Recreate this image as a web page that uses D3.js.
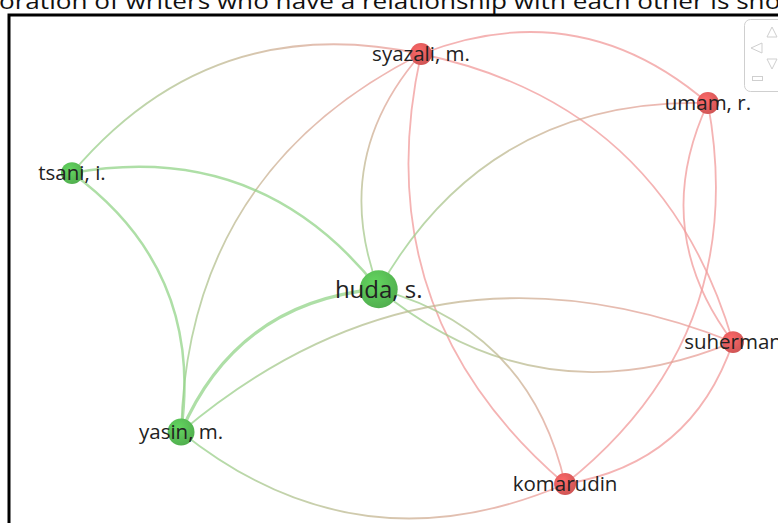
<!DOCTYPE html>
<html>
<head>
<meta charset="utf-8">
<script src="https://cdn.jsdelivr.net/npm/d3@7"></script>
<style>
  html, body { margin: 0; padding: 0; background: #fff; overflow: hidden; }
  svg { display: block; }
  .label { font-family: "Open Sans", sans-serif; fill: #222; }
</style>
</head>
<body>
<div class="net"></div>
<script>
;(function () {
  var W = 778
  var H = 523

  // authors (VOSviewer map coordinates, 0..100)
  var authors = ['syazali, m.', 'umam, r.', 'tsani, i.', 'huda, s.', 'suherman', 'yasin, m.', 'komarudin']
  var mapX = [52.8, 96.2, 0, 46.4, 100, 16.5, 74.6]
  var mapY = [0, 11.4, 27.7, 54.7, 67.0, 87.9, 100]
  var weights = [2, 2, 2, 6, 2, 3, 2]
  var clusters = [1, 1, 2, 2, 1, 2, 1]

  // co-authorship links: source, target, strength
  var linkSource = ['tsani, i.', 'syazali, m.', 'syazali, m.', 'suherman', 'komarudin', 'huda, s.', 'yasin, m.', 'huda, s.', 'umam, r.', 'tsani, i.', 'tsani, i.', 'yasin, m.', 'suherman', 'huda, s.', 'yasin, m.', 'komarudin', 'suherman']
  var linkTarget = ['syazali, m.', 'umam, r.', 'suherman', 'umam, r.', 'syazali, m.', 'syazali, m.', 'syazali, m.', 'umam, r.', 'komarudin', 'huda, s.', 'yasin, m.', 'huda, s.', 'huda, s.', 'komarudin', 'suherman', 'yasin, m.', 'komarudin']
  var linkStrength = [1, 1, 1, 1, 1, 1, 1, 1, 1, 2, 2, 3, 1, 1, 1, 1, 1]

  var title = 'Collaboration of writers who have a relationship with each other is shown'

  var nodeColor = { 1: '#e05c5c', 2: '#58bd55' }
  var linkColor = { 1: '#f19a9a', 2: '#93d489' }

  var svg = d3.select('.net').append('svg')
    .attr('width', W)
    .attr('height', H)

  var x = d3.scaleLinear().domain([0, 100]).range([72, 733])
  var y = d3.scaleLinear().domain([0, 100]).range([54, 484])
  var r = d3.scaleSqrt().domain([0, d3.max(weights)]).range([0, 19])
  var lw = d3.scaleLinear().domain([1, 3]).range([1.8, 3.2])

  var nodes = authors.map(function (name, i) {
    return { name: name, x: x(mapX[i]), y: y(mapY[i]), r: r(weights[i]), c: clusters[i] }
  })
  var byName = {}
  nodes.forEach(function (n) { byName[n.name] = n })

  var links = linkSource.map(function (s, i) {
    return { s: byName[s], t: byName[linkTarget[i]], w: linkStrength[i] }
  })

  var defs = svg.append('defs')

  // title (cut by the page edges, as in the source figure)
  var titleText = svg.append('text')
    .attr('font-family', '"Open Sans", sans-serif')
    .attr('font-size', 21)
    .attr('fill', '#111')
    .text(title)
  var node = titleText.node()
  var start = title.indexOf('oration')
  var end = title.indexOf('shown') + 3
  var offset = node.getSubStringLength(0, start)
  var subW = node.getSubStringLength(start, end - start)
  var sx = 782 / subW
  titleText.attr('transform', 'translate(' + (-1 - offset * sx) + ',9) scale(' + sx + ',1)')

  // frame
  svg.append('rect')
    .attr('x', 9)
    .attr('y', 15)
    .attr('width', W + 20)
    .attr('height', H + 20)
    .attr('fill', 'none')
    .attr('stroke', '#000')
    .attr('stroke-width', 3)

  // links
  links.forEach(function (l, i) {
    var g = defs.append('linearGradient')
      .attr('id', 'lg' + i)
      .attr('gradientUnits', 'userSpaceOnUse')
      .attr('x1', l.s.x).attr('y1', l.s.y)
      .attr('x2', l.t.x).attr('y2', l.t.y)
    g.append('stop').attr('offset', '0%').attr('stop-color', linkColor[l.s.c])
    g.append('stop').attr('offset', '100%').attr('stop-color', linkColor[l.t.c])
  })

  svg.append('g').selectAll('path')
    .data(links)
    .enter().append('path')
    .attr('d', function (l) {
      var dx = l.t.x - l.s.x
      var dy = l.t.y - l.s.y
      var k = 0.3
      var cx = (l.s.x + l.t.x) / 2 + dy * k
      var cy = (l.s.y + l.t.y) / 2 - dx * k
      return 'M' + l.s.x + ',' + l.s.y + 'Q' + cx + ',' + cy + ' ' + l.t.x + ',' + l.t.y
    })
    .attr('fill', 'none')
    .attr('stroke', function (l, i) { return 'url(#lg' + i + ')' })
    .attr('stroke-opacity', 0.75)
    .attr('stroke-width', function (l) { return lw(l.w) })

  // node gradients
  ;[1, 2].forEach(function (c) {
    var rg = defs.append('radialGradient')
      .attr('id', 'ng' + c)
      .attr('cx', '40%').attr('cy', '35%').attr('r', '70%')
    rg.append('stop').attr('offset', '0%').attr('stop-color', d3.color(nodeColor[c]).brighter(0.35))
    rg.append('stop').attr('offset', '100%').attr('stop-color', d3.color(nodeColor[c]).darker(0.25))
  })

  svg.append('g').selectAll('circle')
    .data(nodes)
    .enter().append('circle')
    .attr('cx', function (d) { return d.x })
    .attr('cy', function (d) { return d.y })
    .attr('r', function (d) { return d.r })
    .attr('fill', function (d) { return 'url(#ng' + d.c + ')' })

  svg.append('g').selectAll('text')
    .data(nodes)
    .enter().append('text')
    .attr('class', 'label')
    .attr('x', function (d) { return d.x })
    .attr('y', function (d) { return d.y })
    .attr('dy', '0.35em')
    .attr('text-anchor', 'middle')
    .attr('font-size', function (d) { return d.r > 15 ? 24 : 20.5 })
    .text(function (d) { return d.name })

  // navigation widget
  var nav = svg.append('g').attr('fill', 'none').attr('stroke', '#cfcfcf').attr('stroke-width', 1)
  nav.append('rect').attr('x', 744.5).attr('y', 19.5).attr('width', 50).attr('height', 72).attr('rx', 6).attr('fill', '#fff')
  nav.append('path').attr('d', 'M772,27 L777,37 L767,37 Z')
  nav.append('path').attr('d', 'M751,48 L762,43 L762,53 Z')
  nav.append('path').attr('d', 'M767,59 L777,59 L772,69 Z')
  nav.append('rect').attr('x', 752.5).attr('y', 76.5).attr('width', 10).attr('height', 4)
})()
</script>
</body>
</html>
